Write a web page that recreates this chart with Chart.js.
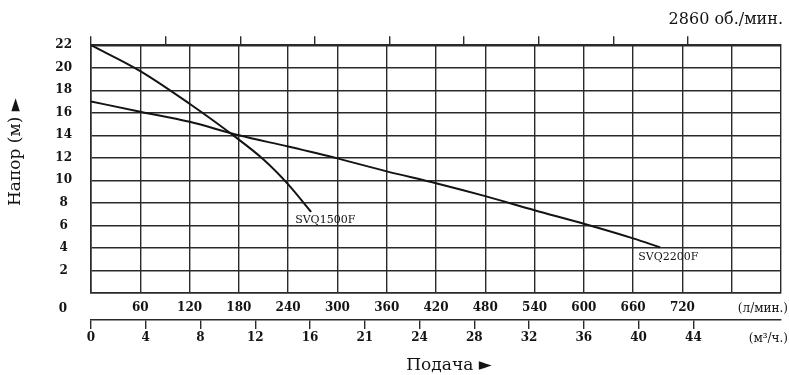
<!DOCTYPE html>
<html>
<head>
<meta charset="utf-8">
<script src="https://cdn.jsdelivr.net/npm/chart.js@4"></script>
<style>
  html, body { margin: 0; padding: 0; background: #fff; }
  canvas { display: block; }
</style>
</head>
<body>
<canvas id="pumpChart" width="789" height="375"></canvas>
<script>
// кривые насосов: подача (л/мин) -> напор (м)
const flow1500 = [0, 60, 120, 173, 210, 240, 268]
const head1500 = [22, 19.7, 16.8, 14.0, 11.85, 9.65, 7.2]

const flow2200 = [0, 60, 120, 180, 240, 300, 360, 420, 480, 540, 600, 660, 693]
const head2200 = [17.0, 16.1, 15.2, 14.0, 13.0, 11.95, 10.8, 9.75, 8.6, 7.35, 6.15, 4.85, 4.05]

const seriesNames = ['SVQ1500F', 'SVQ2200F']

// оси
const flowLabels = [60, 120, 180, 240, 300, 360, 420, 480, 540, 600, 660, 720]
const cubicTicks = [0, 4, 8, 12, 16, 20, 24, 28, 32, 36, 40, 44]
const cubicLabels = ['0', '4', '8', '12', '16', '21', '24', '28', '32', '36', '40', '44']
const gpmTicks = [0, 24, 48, 72, 96, 120, 144, 168, 192]
const headTicks = [2, 4, 6, 8, 10, 12, 14, 16, 18, 20, 22]

const ink = '#141414'
const gridColor = '#2a2a2a'
const serif = '"DejaVu Serif", serif'
const tickFont = {family: serif, size: 12, weight: 'bold'}

const toPoints = (xs, ys) => xs.map((x, i) => ({x: x, y: ys[i]}))

const extraText = {
    id: 'extraText',
    afterDraw(chart) {
        const {ctx, scales, chartArea} = chart
        const x = scales.x
        const y = scales.y
        ctx.save()
        ctx.fillStyle = ink
        ctx.textBaseline = 'middle'

        // ноль оси напора стоит в строке подписей л/мин
        ctx.font = 'bold 12px ' + serif
        ctx.textAlign = 'center'
        ctx.fillText('0', y.right - 28, x.top + 16)

        ctx.font = '12px ' + serif
        ctx.textAlign = 'right'
        ctx.fillText('(л/мин.)', chart.width - 1, x.top + 16)
        ctx.fillText('(м³/ч.)', chart.width - 1, scales.xc.top + 19)

        // названия осей
        ctx.font = '17px ' + serif
        ctx.textAlign = 'center'
        ctx.fillText('Подача ►', (chartArea.left + chartArea.right) / 2 + 13, chart.height - 9)
        ctx.save()
        ctx.translate(16, (chartArea.top + chartArea.bottom) / 2 - 17)
        ctx.rotate(-Math.PI / 2)
        ctx.fillText('Напор (м) ►', 0, 0)
        ctx.restore()

        // подписи кривых у конца линии
        ctx.font = '11px ' + serif
        ctx.textAlign = 'left'
        const ends = [
            [flow1500[flow1500.length - 1], head1500[head1500.length - 1], -16, 8],
            [flow2200[flow2200.length - 1], head2200[head2200.length - 1], -22, 10]
        ]
        ends.forEach((e, i) => {
            const px = x.getPixelForValue(e[0]) + e[2]
            const py = y.getPixelForValue(e[1]) + e[3]
            ctx.fillText(seriesNames[i], px, py)
        })
        ctx.restore()
    }
}

const lineStyle = {
    borderColor: ink,
    borderWidth: 2,
    pointRadius: 0,
    fill: false,
    cubicInterpolationMode: 'monotone'
}

new Chart(document.getElementById('pumpChart'), {
    type: 'line',
    data: {
        datasets: [
            Object.assign({label: seriesNames[0], data: toPoints(flow1500, head1500)}, lineStyle),
            Object.assign({label: seriesNames[1], data: toPoints(flow2200, head2200)}, lineStyle)
        ]
    },
    options: {
        responsive: false,
        animation: false,
        layout: {padding: {left: 0, right: 6, top: 0, bottom: 0}},
        plugins: {
            legend: {display: false},
            tooltip: {enabled: false},
            title: {
                display: true,
                text: '2860 об./мин.',
                align: 'end',
                color: ink,
                font: {family: serif, size: 16, weight: 'normal'},
                padding: {top: 10, bottom: 7}
            }
        },
        scales: {
            x: {
                type: 'linear',
                position: 'bottom',
                weight: 0,
                min: 0,
                max: 840,
                afterFit: (s) => { s.height = 27 },
                ticks: {
                    stepSize: 60,
                    autoSkip: false,
                    maxRotation: 0,
                    padding: 8,
                    color: ink,
                    font: tickFont,
                    callback: (v) => flowLabels.includes(v) ? String(v) : ''
                },
                grid: {color: gridColor, lineWidth: 1.4, drawTicks: false},
                border: {color: gridColor, width: 1.6}
            },
            xc: {
                type: 'linear',
                position: 'bottom',
                weight: 1,
                min: 0,
                max: 50.4,
                afterFit: (s) => { s.height = 55 },
                afterBuildTicks: (s) => { s.ticks = cubicTicks.map(v => ({value: v})) },
                ticks: {
                    autoSkip: false,
                    maxRotation: 0,
                    padding: 2,
                    color: ink,
                    font: tickFont,
                    callback: (v) => {
                        const i = cubicTicks.indexOf(v)
                        return i >= 0 ? cubicLabels[i] : ''
                    }
                },
                grid: {drawOnChartArea: false, tickLength: 9, color: gridColor, lineWidth: 1.4},
                border: {color: gridColor, width: 1.6}
            },
            xg: {
                type: 'linear',
                position: 'top',
                min: 0,
                max: 840 / 3.785411784,
                afterFit: (s) => { s.height = 9 },
                afterBuildTicks: (s) => { s.ticks = gpmTicks.map(v => ({value: v})) },
                ticks: {display: false},
                grid: {drawOnChartArea: false, tickLength: 9, color: gridColor, lineWidth: 1.4},
                border: {color: gridColor, width: 1.6}
            },
            y: {
                type: 'linear',
                min: 0,
                max: 22,
                afterFit: (s) => { s.width = 91 },
                afterBuildTicks: (s) => { s.ticks = [0].concat(headTicks).map(v => ({value: v})) },
                ticks: {
                    crossAlign: 'center',
                    padding: 19,
                    color: ink,
                    font: tickFont,
                    callback: (v) => headTicks.includes(v) ? String(v) : ''
                },
                grid: {color: gridColor, lineWidth: 1.4, drawTicks: false},
                border: {color: gridColor, width: 1.6}
            }
        }
    },
    plugins: [extraText]
})
</script>
</body>
</html>
